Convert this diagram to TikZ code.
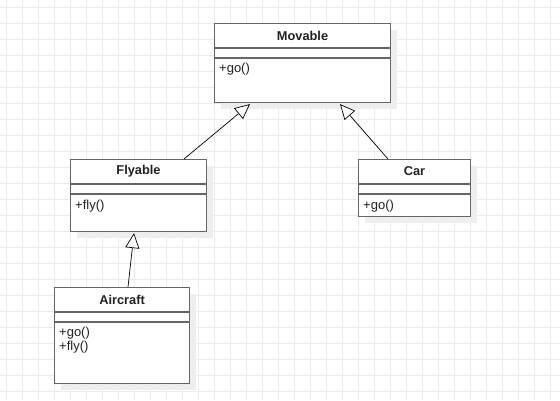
\documentclass[tikz,border=0pt]{standalone}
\usepackage{fontspec}
\setmainfont{Liberation Sans}
\usetikzlibrary{arrows.meta,calc}
\definecolor{gridc}{HTML}{EBEBEB}
\definecolor{boxc}{HTML}{666666}
\definecolor{shad}{HTML}{EEEEEE}
\definecolor{txt}{HTML}{222222}
\tikzset{
 classbox/.style={draw=boxc, line width=1.1pt, fill=white, inner sep=0pt, anchor=north west},
 shadowbox/.style={fill=shad},
 ctitle/.style={font=\bfseries\fontsize{12.8}{15}\selectfont, text=txt, inner sep=0pt},
 member/.style={font=\fontsize{13}{15}\selectfont, anchor=west, inner sep=0pt, text=txt},
 sep/.style={draw=boxc, line width=1.1pt},
 inherit/.style={draw=black, line width=0.7pt, -{Triangle[fill=white, length=15pt, width=14pt, line width=0.7pt]}}
}
\begin{document}
\begin{tikzpicture}[x=1pt, y=-1pt]
\useasboundingbox (0,0) rectangle (560,400);
\fill[white] (0,0) rectangle (560,400);
\foreach \x in {6,22,...,558} \draw[gridc, line width=1pt] (\x,0) -- (\x,400);
\foreach \y in {7,23,...,399} \draw[gridc, line width=1pt] (0,\y) -- (560,\y);
% shadows
\fill[shadowbox] (221,30) rectangle +(176,79);
\fill[shadowbox] (77,166) rectangle +(136,72);
\fill[shadowbox] (365,166) rectangle +(112,57);
\fill[shadowbox] (61,294) rectangle +(135,96);
% boxes
\node[classbox, minimum width=176pt, minimum height=79pt] (mov) at (214,23) {};
\node[classbox, minimum width=136pt, minimum height=72pt] (fly) at (70,159) {};
\node[classbox, minimum width=112pt, minimum height=57pt] (car) at (358,159) {};
\node[classbox, minimum width=135pt, minimum height=96pt] (air) at (54,287) {};
% compartments
\foreach \b in {mov,fly,car,air} {
  \draw[sep] ($(\b.north west)+(0,25)$) -- ($(\b.north east)+(0,25)$);
  \draw[sep] ($(\b.north west)+(0,35)$) -- ($(\b.north east)+(0,35)$);
}
% titles
\node[ctitle] (movt) at ($(mov.north)+(0,12.5)$) {Movable};
\node[ctitle] (flyt) at ($(fly.north)+(0,12.5)$) {Flyable};
\node[ctitle] (cart) at ($(car.north)+(0,12.5)$) {Car};
\node[ctitle] (airt) at ($(air.north)+(0,12.5)$) {Aircraft};
% members
\node[member] (movm) at ($(mov.north west)+(5,46)$) {+go()};
\node[member] (flym) at ($(fly.north west)+(5,47)$) {+fly()};
\node[member] (carm) at ($(car.north west)+(5,47)$) {+go()};
\node[member] (airm1) at ($(air.north west)+(5,46)$) {+go()};
\node[member] (airm2) at ($(air.north west)+(5,60)$) {+fly()};
% inheritance
\draw[inherit] ($(fly.north west)+(114,0)$) -- ($(mov.south west)+(36,1)$);
\draw[inherit] ($(car.north west)+(30,0)$) -- ($(mov.south west)+(126,1)$);
\draw[inherit] ($(air.north west)+(74,0)$) -- ($(fly.south west)+(64,1)$);
\end{tikzpicture}
\end{document}
